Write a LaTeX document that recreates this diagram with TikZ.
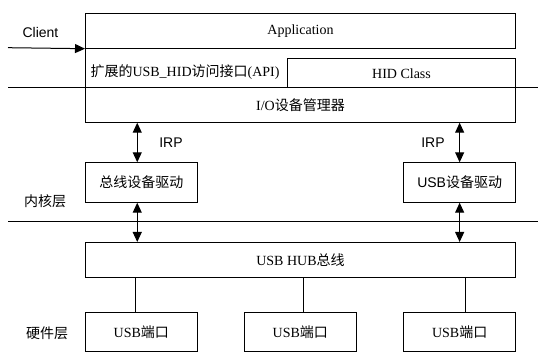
\documentclass[tikz,border=0pt]{standalone}
\usepackage{fontspec}
\setmainfont{Liberation Serif}
\setsansfont{Liberation Sans}
\newfontfamily\cjk{Noto Sans CJK SC}
\usetikzlibrary{arrows.meta}
\tikzset{
  box/.style={draw, line width=1pt, inner sep=0pt, anchor=north west, font=\fontsize{14}{16}\selectfont},
  conn/.style={line width=1pt},
  dbl/.style={conn, {Triangle[length=10pt,width=9pt]}-{Triangle[length=10pt,width=9pt]}},
  sgl/.style={conn, -{Triangle[length=10pt,width=9pt]}},
  lbl/.style={font=\fontsize{14}{16}\selectfont},
  slbl/.style={font=\fontsize{14}{16}\selectfont\sffamily}
}
\begin{document}
\begin{tikzpicture}[x=1pt,y=-1pt]
\useasboundingbox (0,0) rectangle (538,352);
\clip (0,0) rectangle (538,352);
% boxes
\node[box, minimum width=430pt, minimum height=35pt] (app) at (85,12.7) {Application};
\node[box, minimum width=228pt, minimum height=29.5pt] (hid) at (287,58) {HID Class};
\node[lbl] (api) at (185,72.5) {{\cjk 扩展的}USB\_HID{\cjk 访问接口}(API)};
\node[box, minimum width=430pt, minimum height=34.2pt] (io) at (85,87.5) {I/O{\cjk 设备管理器}};
\node[box, minimum width=111.5pt, minimum height=39.4pt] (drvA) at (85,162.3) {\cjk 总线设备驱动};
\node[box, minimum width=111.7pt, minimum height=39.4pt, font=\fontsize{14}{16}\selectfont\sffamily] (drvB) at (403.3,162.3) {USB{\cjk 设备驱动}};
\node[box, minimum width=430pt, minimum height=35.5pt] (hub) at (85,242) {USB HUB{\cjk 总线}};
\node[box, minimum width=111.7pt, minimum height=38.5pt] (portA) at (85,312.5) {USB{\cjk 端口}};
\node[box, minimum width=111.7pt, minimum height=38.5pt] (portB) at (244,312.5) {USB{\cjk 端口}};
\node[box, minimum width=111.7pt, minimum height=38.5pt] (portC) at (403.3,312.5) {USB{\cjk 端口}};
% labels
\node[slbl] (client) at (40.5,32.6) {Client};
\node[slbl] (irpA) at (171,143) {IRP};
\node[slbl] (irpB) at (433,143) {IRP};
\node[lbl] (kern) at (45,201) {\cjk 内核层};
\node[lbl] (hw) at (47,333) {\cjk 硬件层};
% frame edge of API region
\draw[conn] (app.south west) -- (io.north west);
% separator lines
\coordinate (sepAL) at (8,87.5);
\coordinate (sepAR) at (538,87.5);
\coordinate (sepBL) at (8,221.7);
\coordinate (sepBR) at (538,221.7);
\draw[conn] (sepAL) -- (sepAR);
\draw[conn] (sepBL) -- (sepBR);
% client arrow
\coordinate (clientstart) at (8,47.7);
\draw[sgl] (clientstart) -- (app.south west);
% IRP arrows
\draw[dbl] ([xshift=-4pt]drvA.north) -- ([xshift=-4pt]drvA.north |- io.south);
\draw[dbl] (drvB.north) -- (drvB.north |- io.south);
\draw[dbl] ([xshift=-4pt]drvA.south) -- ([xshift=-4pt]drvA.south |- hub.north);
\draw[dbl] (drvB.south) -- (drvB.south |- hub.north);
% port connectors
\draw[conn] ([xshift=-5.5pt]portA.north) -- ([xshift=-5.5pt]portA.north |- hub.south);
\draw[conn] ([xshift=3pt]portB.north) -- ([xshift=3pt]portB.north |- hub.south);
\draw[conn] ([xshift=5.5pt]portC.north) -- ([xshift=5.5pt]portC.north |- hub.south);
\end{tikzpicture}
\end{document}
